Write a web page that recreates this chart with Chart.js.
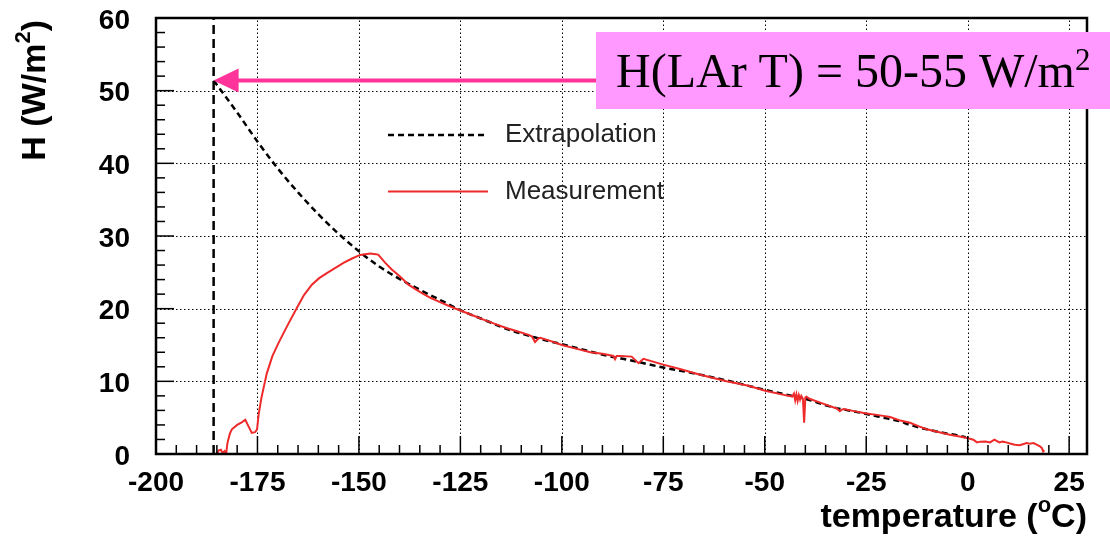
<!DOCTYPE html>
<html>
<head>
<meta charset="utf-8">
<title>Heat flux vs temperature</title>
<script src="https://cdn.jsdelivr.net/npm/chart.js@4.4.1/dist/chart.umd.min.js"></script>
<style>
  html, body { margin: 0; padding: 0; background: #fff; }
  #wrap { width: 1110px; height: 536px; }
</style>
</head>
<body>
<div id="wrap"><canvas id="c" width="1110" height="536"></canvas></div>
<script>
// Axis ticks
const temperatureTicks = [-200, -175, -150, -125, -100, -75, -50, -25, 0, 25];
const fluxTicks = [0, 10, 20, 30, 40, 50, 60];
const temperatureRange = [-200, 29.4];
const fluxRange = [0, 60];

// Liquid argon boiling point and the extrapolated flux there
const lArTemperature = -185.8;
const lArFlux = 51.4;
const annotationText = 'H(LAr T) = 50-55 W/m';
const annotationSup = '2';

// Measured heat flux H (W/m^2) against temperature (deg C)
const measuredTemperature = [
  -185.0, -184.5, -184.0, -183.6, -183.1, -182.7, -182.4, -181.8, -181.3, -180.0,
  -179.0, -178.0, -177.2, -176.4, -175.6, -175.1, -174.7, -174.0, -172.7, -171.3,
  -169.8, -167.5, -165.3, -163.5, -161.6, -159.8, -157.9, -155.8, -153.8, -151.7,
  -149.7, -147.2, -145.8, -145.2, -143.5, -141.9, -139.8, -137.8, -135.0, -132.4,
  -130.0, -127.5, -125.0, -122.0, -119.3, -116.5, -113.5, -111.0, -108.2, -107.4,
  -106.6, -105.8, -105.3, -102.5, -100.0, -96.5, -93.0, -90.0, -87.3, -86.9,
  -86.5, -85.6, -82.8, -81.1, -79.9, -75.0, -70.9, -65.9, -59.4, -54.0,
  -49.9, -45.0, -43.2, -42.8, -42.5, -42.2, -41.9, -41.6, -41.3, -41.0,
  -40.6, -40.3, -40.0, -39.7, -39.0, -36.0, -33.0, -32.3, -31.5, -31.0,
  -30.5, -28.0, -25.3, -22.0, -19.1, -16.6, -14.2, -12.0, -10.1, -7.0,
  -4.4, -2.0, -0.2, 1.4, 2.3, 3.1, 4.4, 5.5, 6.6, 7.8,
  8.6, 9.5, 10.4, 11.6, 12.8, 13.6, 14.5, 15.3, 16.2, 17.0,
  17.8, 18.3, 18.6, 18.9
];
const measuredFlux = [
  0.0, 0.5, 0.6, 0.1, 0.4, 0.1, 1.5, 2.8, 3.4, 4.0,
  4.3, 4.7, 3.8, 2.9, 3.0, 3.4, 5.5, 7.8, 11.1, 13.5,
  15.3, 17.8, 20.1, 21.9, 23.3, 24.2, 24.9, 25.6, 26.3, 26.9,
  27.4, 27.6, 27.5, 27.4, 26.3, 25.4, 24.4, 23.3, 22.3, 21.5,
  20.9, 20.3, 19.75, 19.1, 18.5, 17.9, 17.3, 16.9, 16.4, 16.2,
  15.4, 15.9, 16.0, 15.5, 15.0, 14.5, 14.0, 13.8, 13.5, 13.05,
  13.5, 13.5, 13.4, 12.5, 13.1, 12.3, 11.7, 10.9, 10.0, 9.4,
  8.7, 8.1, 7.9, 8.3, 7.4, 8.2, 7.3, 8.1, 7.5, 8.0,
  7.6, 4.3, 7.8, 7.9, 7.6, 7.0, 6.4, 6.3, 5.9, 6.1,
  6.2, 5.9, 5.6, 5.35, 5.1, 4.6, 4.3, 3.8, 3.4, 3.0,
  2.65, 2.4, 2.2, 1.97, 1.6, 1.7, 1.73, 1.6, 1.97, 1.6,
  1.7, 1.6, 1.45, 1.28, 1.2, 1.35, 1.5, 1.4, 1.5, 1.3,
  1.05, 0.8, 0.35, 0.5
];

// Extrapolated flux, from the LAr point up to room temperature
const extrapolatedTemperature = [
  -185.8, -180.0, -175.0, -170.0, -165.0, -160.0, -155.0, -150.0, -145.0, -140.0,
  -135.0, -130.0, -125.0, -119.3, -113.5, -107.0, -100.0, -93.0, -87.0, -84.0,
  -75.0, -68.4, -60.0, -52.0, -45.0, -40.0, -34.0, -25.7, -20.0, -16.7,
  -14.2, -10.1, -5.0, -2.7, -0.5
];
const extrapolatedFlux = [
  51.4, 47.0, 43.0, 39.3, 36.0, 33.0, 30.3, 27.9, 25.8, 24.1,
  22.6, 21.2, 19.8, 18.5, 17.2, 16.1, 15.1, 14.1, 13.3, 13.0,
  11.9, 11.2, 10.2, 9.1, 8.2, 7.6, 6.55, 5.6, 4.9, 4.5,
  4.0, 3.4, 2.8, 2.6, 2.3
];

const toPoints = (xs, ys) => xs.map((x, i) => ({ x: x, y: ys[i] }));

const SANS = '"Liberation Sans", Arial, Helvetica, sans-serif';
const SERIF = '"Liberation Serif", "Times New Roman", serif';

// Draws a run of text pieces (some raised as superscripts)
function richWidth(ctx, parts) {
  let w = 0;
  for (const p of parts) { ctx.font = p.font; w += ctx.measureText(p.t).width; }
  return w;
}
function drawRich(ctx, parts, x, y) {
  let cx = x;
  for (const p of parts) {
    ctx.font = p.font;
    ctx.fillText(p.t, cx, y - (p.rise || 0));
    cx += ctx.measureText(p.t).width;
  }
}

const framePlugin = {
  id: 'frame',
  beforeDatasetsDraw(chart) {
    const { ctx, chartArea: a, scales } = chart;
    const xs = scales.x, ys = scales.y;
    ctx.save();
    ctx.strokeStyle = '#000';
    ctx.lineWidth = 1;
    ctx.setLineDash([1.5, 2.5]);
    for (const v of temperatureTicks) {
      const px = Math.round(xs.getPixelForValue(v)) + 0.5;
      if (px <= a.left + 1 || px >= a.right - 1) continue;
      ctx.beginPath(); ctx.moveTo(px, a.bottom); ctx.lineTo(px, a.top); ctx.stroke();
    }
    for (const v of fluxTicks) {
      const py = Math.round(ys.getPixelForValue(v)) + 0.5;
      if (py <= a.top + 1 || py >= a.bottom - 1) continue;
      ctx.beginPath(); ctx.moveTo(a.left, py); ctx.lineTo(a.right, py); ctx.stroke();
    }
    ctx.restore();
  },
  afterDatasetsDraw(chart) {
    const { ctx, chartArea: a, scales } = chart;
    const xs = scales.x, ys = scales.y;
    ctx.save();

    // tick marks, drawn inside the frame
    ctx.strokeStyle = '#000';
    ctx.lineWidth = 1.5;
    ctx.setLineDash([]);
    for (let v = fluxRange[0]; v <= fluxRange[1]; v += 2) {
      const py = ys.getPixelForValue(v);
      const len = (v % 10 === 0) ? 18 : 9;
      ctx.beginPath(); ctx.moveTo(a.left, py); ctx.lineTo(a.left + len, py); ctx.stroke();
    }
    for (let v = temperatureRange[0]; v <= temperatureRange[1]; v += 5) {
      const px = xs.getPixelForValue(v);
      const len = (v % 25 === 0) ? 18 : 9;
      ctx.beginPath(); ctx.moveTo(px, a.bottom); ctx.lineTo(px, a.bottom - len); ctx.stroke();
    }

    // frame
    ctx.lineWidth = 2.5;
    ctx.strokeRect(a.left, a.top, a.right - a.left, a.bottom - a.top);

    // legend
    const legendX0 = 388, legendX1 = 488, textX = 505;
    const rows = [
      { ds: chart.data.datasets[1], y: 135 },
      { ds: chart.data.datasets[0], y: 191.5 }
    ];
    for (const r of rows) {
      ctx.strokeStyle = r.ds.borderColor;
      ctx.lineWidth = r.ds.borderWidth;
      ctx.setLineDash(r.ds.borderDash || []);
      ctx.beginPath(); ctx.moveTo(legendX0, r.y); ctx.lineTo(legendX1, r.y); ctx.stroke();
      ctx.setLineDash([]);
      ctx.fillStyle = '#222';
      ctx.font = '26px ' + SANS;
      ctx.textBaseline = 'middle';
      ctx.textAlign = 'left';
      ctx.fillText(r.ds.label, textX, r.y);
    }

    // annotation box and arrow pointing at the LAr point
    const boxLeft = 596, boxTop = 32, boxBottom = 109;
    ctx.fillStyle = '#ff99ff';
    ctx.fillRect(boxLeft, boxTop, chart.width - boxLeft, boxBottom - boxTop);

    const tipX = xs.getPixelForValue(lArTemperature);
    const tipY = ys.getPixelForValue(lArFlux);
    ctx.strokeStyle = '#ff3399';
    ctx.fillStyle = '#ff3399';
    ctx.lineWidth = 4;
    ctx.beginPath(); ctx.moveTo(tipX + 20, tipY); ctx.lineTo(boxLeft, tipY); ctx.stroke();
    ctx.beginPath();
    ctx.moveTo(tipX, tipY);
    ctx.lineTo(tipX + 25, tipY - 12);
    ctx.lineTo(tipX + 25, tipY + 12);
    ctx.closePath();
    ctx.fill();

    ctx.fillStyle = '#000';
    ctx.textBaseline = 'alphabetic';
    ctx.textAlign = 'left';
    drawRich(ctx, [
      { t: annotationText, font: '48px ' + SERIF },
      { t: annotationSup, font: '31px ' + SERIF, rise: 17 }
    ], 616, 86.5);

    // axis titles
    ctx.fillStyle = '#000';
    const xTitle = [
      { t: 'temperature (', font: 'bold 34px ' + SANS },
      { t: 'o', font: 'bold 22px ' + SANS, rise: 15 },
      { t: 'C)', font: 'bold 34px ' + SANS }
    ];
    const xw = richWidth(ctx, xTitle);
    drawRich(ctx, xTitle, a.right - xw, 527);

    const yTitle = [
      { t: 'H (W/m', font: 'bold 34px ' + SANS },
      { t: '2', font: 'bold 22px ' + SANS, rise: 15 },
      { t: ')', font: 'bold 34px ' + SANS }
    ];
    const yw = richWidth(ctx, yTitle);
    ctx.translate(45, a.top + 2);
    ctx.rotate(-Math.PI / 2);
    drawRich(ctx, yTitle, -yw, 0);

    ctx.restore();
  }
};

new Chart(document.getElementById('c'), {
  type: 'line',
  data: {
    datasets: [
      {
        label: 'Measurement',
        data: toPoints(measuredTemperature, measuredFlux),
        borderColor: '#ee2a2a',
        borderWidth: 2,
        pointRadius: 0,
        tension: 0,
        order: 1
      },
      {
        label: 'Extrapolation',
        data: toPoints(extrapolatedTemperature, extrapolatedFlux),
        borderColor: '#000',
        borderWidth: 2.5,
        borderDash: [6, 4],
        pointRadius: 0,
        cubicInterpolationMode: 'monotone',
        order: 2
      },
      {
        label: 'LAr temperature',
        data: toPoints([lArTemperature, lArTemperature], fluxRange),
        borderColor: '#000',
        borderWidth: 2.5,
        borderDash: [9, 5],
        pointRadius: 0,
        tension: 0,
        order: 3
      }
    ]
  },
  options: {
    responsive: false,
    animation: false,
    devicePixelRatio: 1,
    layout: { padding: { left: 0, top: 18, right: 23, bottom: 0 } },
    plugins: { legend: { display: false }, tooltip: { enabled: false } },
    scales: {
      x: {
        type: 'linear',
        min: temperatureRange[0],
        max: temperatureRange[1],
        afterBuildTicks: s => { s.ticks = temperatureTicks.map(v => ({ value: v })); },
        afterFit: s => { s.height = 82; s.paddingLeft = 0; s.paddingRight = 0; },
        grid: { display: false, drawTicks: false },
        border: { display: false },
        ticks: {
          autoSkip: false, maxRotation: 0, padding: 12,
          color: '#000',
          font: { family: SANS, size: 28, weight: 'bold' }
        }
      },
      y: {
        type: 'linear',
        min: fluxRange[0],
        max: fluxRange[1],
        afterBuildTicks: s => { s.ticks = fluxTicks.map(v => ({ value: v })); },
        afterFit: s => { s.width = 156; s.paddingTop = 0; s.paddingBottom = 0; },
        grid: { display: false, drawTicks: false },
        border: { display: false },
        ticks: {
          padding: 26, labelOffset: 3,
          color: '#000',
          font: { family: SANS, size: 28, weight: 'bold' }
        }
      }
    }
  },
  plugins: [framePlugin]
});
</script>
</body>
</html>
